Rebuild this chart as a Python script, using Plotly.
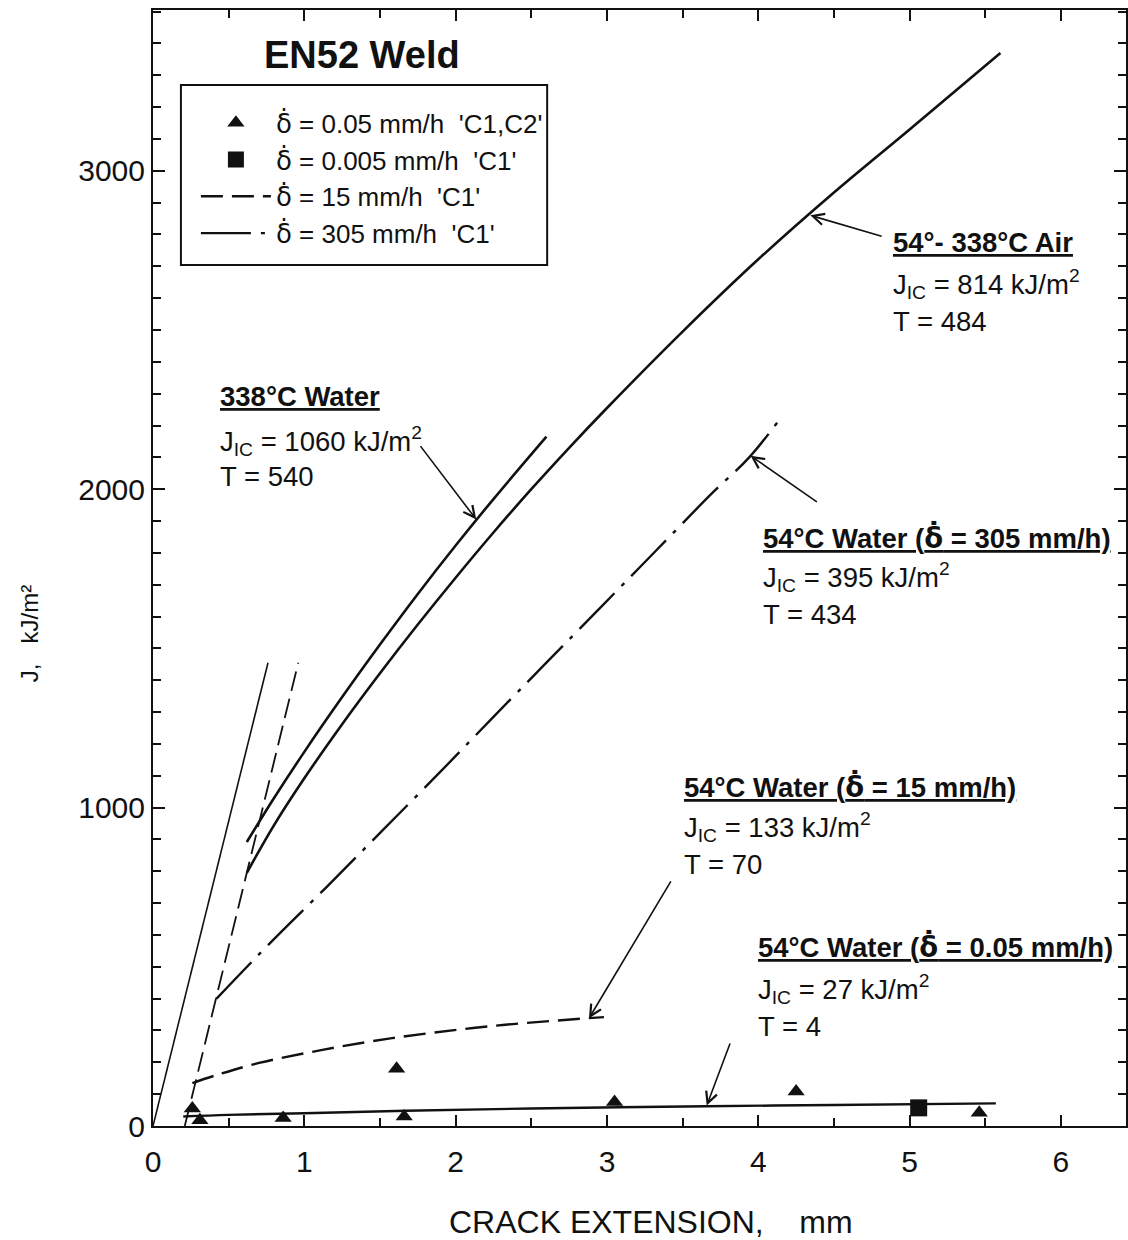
import plotly.graph_objects as go

# ---- data (crack extension in mm, J in kJ/m^2) ----
# blunting lines
blunt_solid_x = [0.0, 0.76]
blunt_solid_j = [0, 1455]
blunt_dash_x = [0.21, 0.96]
blunt_dash_j = [0, 1455]

# 338°C water resistance curve
water338_x = [0.62, 0.80, 1.00, 1.25, 1.50, 1.75, 2.00, 2.25, 2.60]
water338_j = [892, 1030, 1175, 1347, 1512, 1671, 1823, 1969, 2165]

# 54-338°C air resistance curve
air_x = [0.62, 0.80, 1.00, 1.25, 1.50, 1.75, 2.00, 2.25, 2.50, 2.75, 3.00,
         3.50, 4.00, 4.50, 5.00, 5.60]
air_j = [795, 945, 1092, 1262, 1422, 1575, 1722, 1864, 2000, 2130, 2255,
         2495, 2722, 2932, 3130, 3370]

# 54°C water, 305 mm/h
w305_x = [0.42, 0.77, 1.15, 1.52, 1.89, 2.25, 2.95, 3.32, 3.69, 3.94, 4.13]
w305_j = [400, 573, 752, 930, 1108, 1285, 1625, 1805, 1985, 2100, 2212]

# 54°C water, 15 mm/h
w15_x = [0.26, 0.42, 0.70, 1.12, 1.58, 2.24, 2.98]
w15_j = [135, 160, 198, 239, 276, 314, 342]

# 54°C water, 0.05 mm/h fit
w005_x = [0.20, 0.50, 1.00, 1.67, 2.50, 3.66, 4.50, 5.57]
w005_j = [30, 35, 40, 48, 55, 62, 66, 71]

# test points
tri_x = [0.26, 0.31, 0.86, 1.61, 1.66, 3.05, 4.25, 5.46]
tri_j = [55, 18, 25, 180, 30, 75, 108, 42]
sq_x = [5.06]
sq_j = [57]

# delta with a dot above (crack-opening rate)
DOT = "<span style=\"font-family:'DejaVu Sans'\">\u03b4\u0307</span>"
NB = "\u00a0"
legend_names = [
    f"{DOT} = 0.05 mm/h{NB}{NB}'C1,C2'",
    f"{DOT} = 0.005 mm/h{NB}{NB}'C1'",
    f"{DOT} = 15 mm/h{NB}{NB}'C1'",
    f"{DOT} = 305 mm/h{NB}{NB}'C1'",
]

FONT = "Liberation Sans, Arial, Helvetica, sans-serif"
BLACK = "#111111"

fig = go.Figure()

fig.add_trace(go.Scatter(x=blunt_solid_x, y=blunt_solid_j, mode="lines",
                         line=dict(color=BLACK, width=1.6), showlegend=False))
fig.add_trace(go.Scatter(x=blunt_dash_x, y=blunt_dash_j, mode="lines",
                         line=dict(color=BLACK, width=1.8, dash="20px,8px"),
                         showlegend=False))
fig.add_trace(go.Scatter(x=water338_x, y=water338_j, mode="lines",
                         line=dict(color=BLACK, width=2.6, shape="spline"),
                         showlegend=False))
fig.add_trace(go.Scatter(x=air_x, y=air_j, mode="lines",
                         line=dict(color=BLACK, width=2.6, shape="spline"),
                         showlegend=False))
fig.add_trace(go.Scatter(x=w005_x, y=w005_j, mode="lines",
                         line=dict(color=BLACK, width=2.4, shape="spline"),
                         showlegend=False))

# legend-bearing series
fig.add_trace(go.Scatter(x=tri_x, y=tri_j, mode="markers", name=legend_names[0],
                         legendgroup="a",
                         marker=dict(symbol="triangle-up", size=15, color=BLACK)))
fig.add_trace(go.Scatter(x=sq_x, y=sq_j, mode="markers", name=legend_names[1],
                         legendgroup="b",
                         marker=dict(symbol="square", size=17, color=BLACK)))
fig.add_trace(go.Scatter(x=w15_x, y=w15_j, mode="lines", name=legend_names[2],
                         legendgroup="c",
                         line=dict(color=BLACK, width=2.4, dash="22px,9px",
                                   shape="spline")))
fig.add_trace(go.Scatter(x=w305_x, y=w305_j, mode="lines", name=legend_names[3],
                         legendgroup="d",
                         line=dict(color=BLACK, width=2.4,
                                   dash="50px,10px,4px,10px", shape="spline")))

annotations = []
TXT = 27.5


def label_block(x, y_head, y_j, y_t, head, jic, t):
    common = dict(xref="x", yref="y", xanchor="left", yanchor="middle",
                  showarrow=False, font=dict(family=FONT, size=TXT, color=BLACK))
    annotations.append(dict(x=x, y=y_head, text=f"<b><u>{head}</u></b>", **common))
    annotations.append(dict(x=x, y=y_j,
                            text=f"J<sub>IC</sub> = {jic} kJ/m<sup>2</sup>", **common))
    annotations.append(dict(x=x, y=y_t, text=f"T = {t}", **common))


def arrow(hx, hy, tx, ty):
    annotations.append(dict(x=hx, y=hy, ax=tx, ay=ty, xref="x", yref="y",
                            axref="x", ayref="y", text="", showarrow=True,
                            arrowhead=5, arrowsize=1.4, arrowwidth=1.6,
                            arrowcolor=BLACK, standoff=0, startstandoff=0))


label_block(0.428, 2290, 2150, 2039, "338°C Water", 1060, 540)
label_block(4.878, 2774, 2645, 2526, "54°- 338°C Air", 814, 484)
label_block(4.021, 1850, 1725, 1605, f"54°C Water ({DOT} = 305 mm/h)", 395, 434)
label_block(3.494, 1068, 940, 820, f"54°C Water ({DOT} = 15 mm/h)", 133, 70)
label_block(3.988, 565, 430, 314, f"54°C Water ({DOT} = 0.05 mm/h)", 27, 4)

arrow(2.136, 1905, 1.76, 2140)
arrow(4.344, 2860, 4.825, 2793)
arrow(3.949, 2105, 4.397, 1957)
arrow(2.881, 338, 3.428, 773)
arrow(3.659, 64, 3.817, 264)

annotations.append(dict(x=1.378, y=3365, xref="x", yref="y", text="<b>EN52 Weld</b>",
                        showarrow=False, xanchor="center", yanchor="middle",
                        font=dict(family=FONT, size=38, color=BLACK)))

# axis titles
annotations.append(dict(x=0.5118, y=-0.086, xref="paper", yref="paper",
                        text=f"CRACK EXTENSION,{NB}{NB}{NB}{NB}mm",
                        showarrow=False, xanchor="center", yanchor="middle",
                        font=dict(family=FONT, size=32, color=BLACK)))
annotations.append(dict(x=-0.1262, y=0.4409, xref="paper", yref="paper",
                        text=f"J,{NB}{NB}{NB}kJ/m²", textangle=-90,
                        showarrow=False, xanchor="center", yanchor="middle",
                        font=dict(family=FONT, size=24, color=BLACK)))

axis_common = dict(
    showline=True, linewidth=2, linecolor=BLACK, mirror="allticks",
    ticks="inside", tickwidth=2, tickcolor=BLACK,
    showgrid=False, zeroline=False,
    tickfont=dict(family=FONT, size=30, color=BLACK),
)

fig.update_layout(
    width=1128, height=1240,
    margin=dict(l=153, r=0, t=10, b=114),
    paper_bgcolor="white", plot_bgcolor="white",
    font=dict(family=FONT, color=BLACK),
    annotations=annotations,
    shapes=[dict(type="rect", xref="paper", yref="paper",
                 x0=0.0287, x1=0.4051, y0=0.7715, y1=0.9328,
                 line=dict(color=BLACK, width=2), layer="above")],
    legend=dict(x=0.0441, y=0.92, xanchor="left", yanchor="top",
                bgcolor="rgba(0,0,0,0)", borderwidth=0,
                font=dict(family=FONT, size=26, color=BLACK),
                itemwidth=70, tracegroupgap=0),
    xaxis=dict(range=[0, 6.43], tick0=0, dtick=1, ticklen=11,
               ticklabelstandoff=8,
               minor=dict(dtick=0.5, ticklen=8, tickwidth=1.5, ticks="inside",
                          tickcolor=BLACK),
               **axis_common),
    yaxis=dict(range=[0, 3505], tick0=0, dtick=1000, ticklen=12,
               minor=dict(dtick=100, ticklen=8, tickwidth=1.5, ticks="inside",
                          tickcolor=BLACK),
               **axis_common),
)

fig.write_html("out.html")
